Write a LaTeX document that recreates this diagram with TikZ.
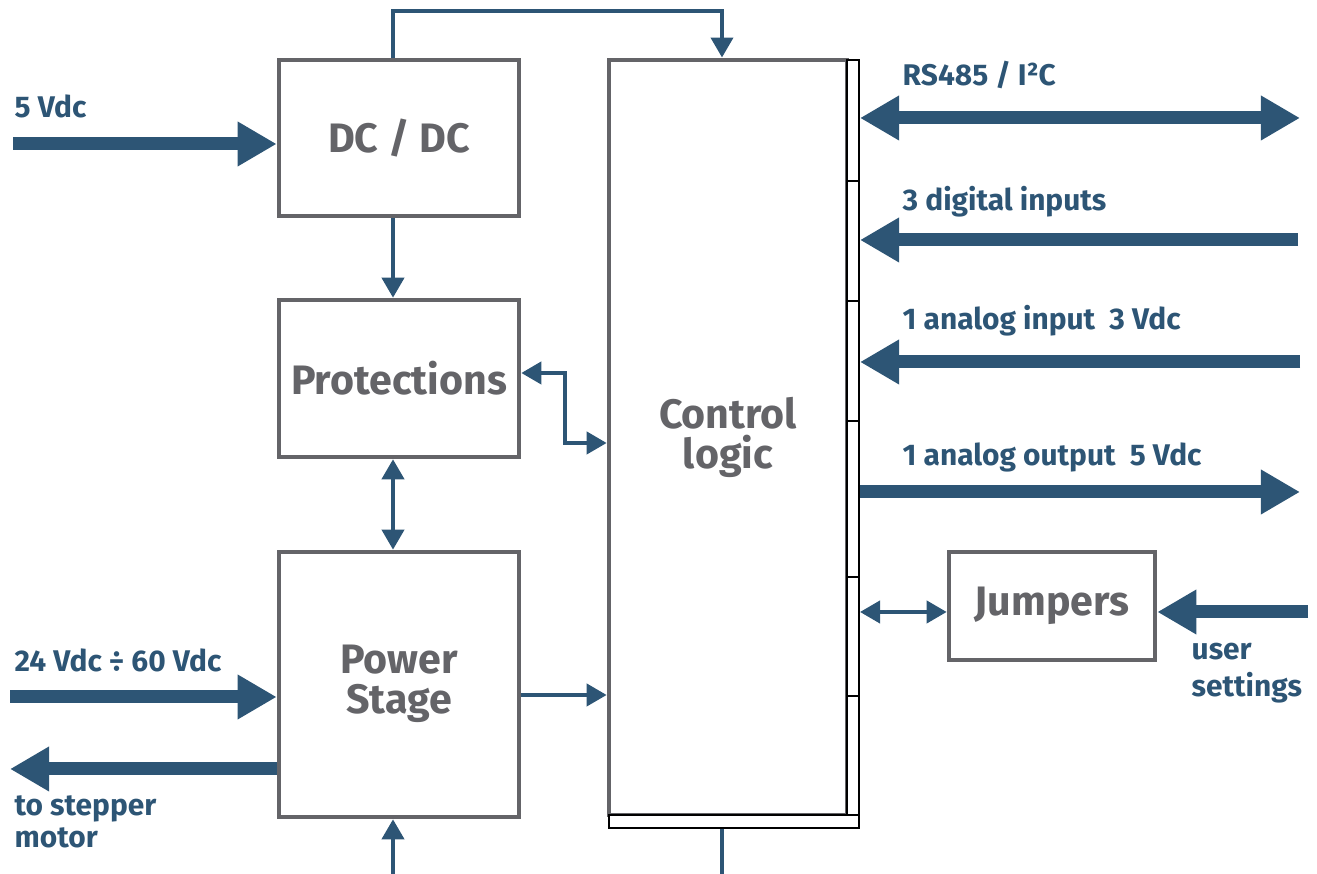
\documentclass[tikz,border=0pt]{standalone}
\usepackage{fontspec}
\setmainfont{Fira Sans}
\usetikzlibrary{arrows.meta,positioning}
\definecolor{Wire}{HTML}{2D5575}
\definecolor{Frame}{HTML}{646468}

\begin{document}
\begin{tikzpicture}[x=0.01cm,y=-0.01cm,
          block/.style={draw=Frame,line width=0.045cm,fill=white,text=Frame,inner sep=0pt,
            font=\bfseries\fontsize{11.7}{11.5}\selectfont,align=center},
          bus/.style={draw=black,line width=0.02cm,fill=white,inner sep=0pt},
          tag/.style={text=Wire,inner sep=0pt,anchor=base west,align=left,
            font=\bfseries\fontsize{8.5}{9.2}\selectfont},
          feed/.style={-{Triangle[length=0.39cm,width=0.42cm]},draw=Wire,line width=0.13cm},
          feeds/.style={{Triangle[length=0.39cm,width=0.42cm]}-{Triangle[length=0.39cm,width=0.42cm]},
            draw=Wire,line width=0.13cm},
          wire/.style={-{Triangle[length=0.2cm,width=0.22cm]},draw=Wire,line width=0.04cm},
          wires/.style={{Triangle[length=0.2cm,width=0.22cm]}-{Triangle[length=0.2cm,width=0.22cm]},
            draw=Wire,line width=0.04cm}]
        \useasboundingbox (0,0) rectangle (1317,874);
        % blocks
        \node[block,minimum width=2.40cm,minimum height=1.56cm] (dcdc) at (399,138) {DC / DC};
        \node[block,minimum width=2.40cm,minimum height=1.57cm] (prot) at (399,378.5) {Protections};
        \node[block,minimum width=2.40cm,minimum height=2.65cm,text depth=0.1cm] (power) at (399,684.5) {Power\\Stage};
        \node[block,minimum width=2.38cm,minimum height=7.55cm] (ctrl) at (728,437.5) {Control\\logic};
        \node[block,minimum width=2.06cm,minimum height=1.08cm] (jump) at (1052,606) {Jumpers};
        % connector strip
        \node[bus,minimum width=0.12cm,minimum height=7.55cm] (bus) at (853,437.5) {};
        \node[bus,minimum width=2.50cm,minimum height=0.13cm] (rail) at (734,821.5) {};
        \foreach \y in {181,301,421,577,696}
          \draw[black,line width=0.02cm] (bus.west |- 0,\y) -- (bus.east |- 0,\y);
        % free ends
        \coordinate (xa) at (393,0);
        \coordinate (xb) at (722,0);
        \coordinate (v5) at (13,144);
        \coordinate (v24) at (10,697);
        \coordinate (motor) at (10,769);
        \coordinate (gnd) at (393,874);
        \coordinate (ext) at (722,874);
        \coordinate (rs) at (1300,118);
        \coordinate (din) at (1298,240);
        \coordinate (ain) at (1300,362);
        \coordinate (aout) at (1300,492);
        \coordinate (usr) at (1308,612);
        % internal links
        \draw[wire] (dcdc.north -| xa) -- ++(0,-47) -| (ctrl.north -| xb);
        \draw[wire] (dcdc.south -| xa) -- (prot.north -| xa);
        \draw[wires] (prot.south -| xa) -- (power.north -| xa);
        \draw[wires] (prot.east |- 0,373) -| (565,443) -- (ctrl.west |- 0,443);
        \draw[wire] (power.east |- 0,695) -- (ctrl.west |- 0,695);
        \draw[wire] (gnd) -- (power.south -| xa);
        \draw[draw=Wire,line width=0.04cm] (rail.south -| xb) -- (ext);
        \draw[wires] (bus.east |- 0,612) -- (jump.west |- 0,612);
        % external signals
        \draw[feed] (v5) -- (dcdc.west |- v5);
        \draw[feed] (v24) -- (power.west |- v24);
        \draw[feed] (power.west |- motor) -- (motor);
        \draw[feeds] (bus.east |- rs) -- (rs);
        \draw[feed] (din) -- (bus.east |- din);
        \draw[feed] (ain) -- (bus.east |- ain);
        \draw[feed] (bus.east |- aout) -- (aout);
        \draw[feed] (usr) -- (jump.east |- usr);
        % labels
        \node[tag] (l5) at (14,118) {5 Vdc};
        \node[tag] (l24) at (14,672) {24 Vdc ÷ 60 Vdc};
        \node[tag] (lmot) at (14,848) {to stepper\\motor};
        \node[tag] (lrs) at (902,86) {RS485 / I²C};
        \node[tag] (ldin) at (902,211) {3 digital inputs};
        \node[tag] (lain) at (902,330) {1 analog input~~3 Vdc};
        \node[tag] (laout) at (902,466) {1 analog output~~5 Vdc};
        \node[tag,font=\bfseries\fontsize{8.5}{10.8}\selectfont] (lusr) at (1191,697) {user\\settings};
      \end{tikzpicture}
\end{document}
